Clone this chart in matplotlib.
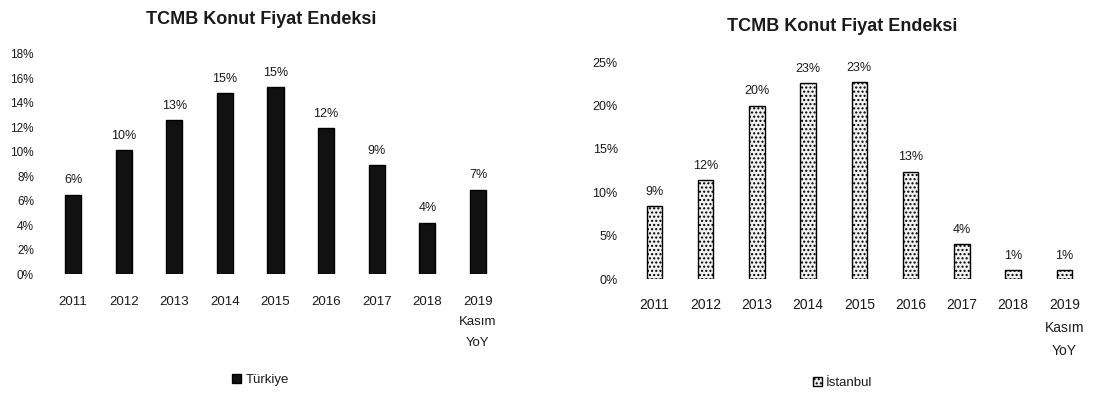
import matplotlib.pyplot as plt
import numpy as np

plt.rcParams['font.family'] = ['Liberation Sans', 'DejaVu Sans']

years = ["2011", "2012", "2013", "2014", "2015", "2016", "2017", "2018", "2019\nKasım\nYoY"]
turkiye = [6.5, 10.1, 12.6, 14.8, 15.3, 11.9, 8.9, 4.2, 6.9]
turkiye_lbl = ["6%", "10%", "13%", "15%", "15%", "12%", "9%", "4%", "7%"]
istanbul = [8.4, 11.4, 20.0, 22.6, 22.7, 12.4, 4.0, 1.0, 1.0]
istanbul_lbl = ["9%", "12%", "20%", "23%", "23%", "13%", "4%", "1%", "1%"]

fig = plt.figure(figsize=(11.11, 3.96), dpi=100)
x = np.arange(len(years))
txt = '#1a1a1a'


def draw(ax, vals, lbls, top, step, width, name, fc, hatch,
         ypad, ylab, xpad, xlab, lsp, leg_x):
    ax.bar(x, vals, width=width, color=fc, edgecolor='black', linewidth=1.0,
           hatch=hatch, label=name)
    for xi, v, t in zip(x, vals, lbls):
        ax.annotate(t, (xi, v), xytext=(0, 6), textcoords='offset points',
                    ha='center', va='bottom', fontsize=9, color=txt)
    ax.set_xlim(-0.5, len(years) - 0.5)
    ax.set_ylim(0, top)
    ax.set_yticks(np.arange(0, top + 0.1, step))
    ax.set_yticklabels([f"{int(t)}%" for t in np.arange(0, top + 0.1, step)])
    ax.set_xticks(x)
    ax.set_xticklabels(years)
    for lab in ax.get_xticklabels():
        lab.set_linespacing(lsp)
    ax.tick_params(axis='x', length=0, pad=xpad, labelsize=xlab, colors=txt)
    ax.tick_params(axis='y', length=0, pad=ypad, labelsize=ylab, colors=txt)
    for s in ax.spines.values():
        s.set_visible(False)
    ax.legend(loc='center', bbox_to_anchor=(leg_x, -0.48), frameon=False,
              fontsize=9.5, handlelength=0.7, handleheight=0.7, handletextpad=0.3,
              labelcolor=txt)


ax1 = fig.add_axes([0.043, 0.308, 0.41, 0.556])
draw(ax1, turkiye, turkiye_lbl, 18, 2, 0.32, "Türkiye", '#111111', None,
     10, 8.5, 15.5, 9.5, 1.95, 0.467)
fig.text(0.235, 0.95, "TCMB Konut Fiyat Endeksi", ha='center', va='center',
         fontsize=13, fontweight='bold', color=txt)

ax2 = fig.add_axes([0.566, 0.295, 0.415, 0.548])
draw(ax2, istanbul, istanbul_lbl, 25, 5, 0.3, "İstanbul", '#f2f2f2', '....',
     8, 9, 13.5, 10, 1.8, 0.464)
fig.text(0.758, 0.932, "TCMB Konut Fiyat Endeksi", ha='center', va='center',
         fontsize=13, fontweight='bold', color=txt)

fig.savefig("out.png", dpi=100)
